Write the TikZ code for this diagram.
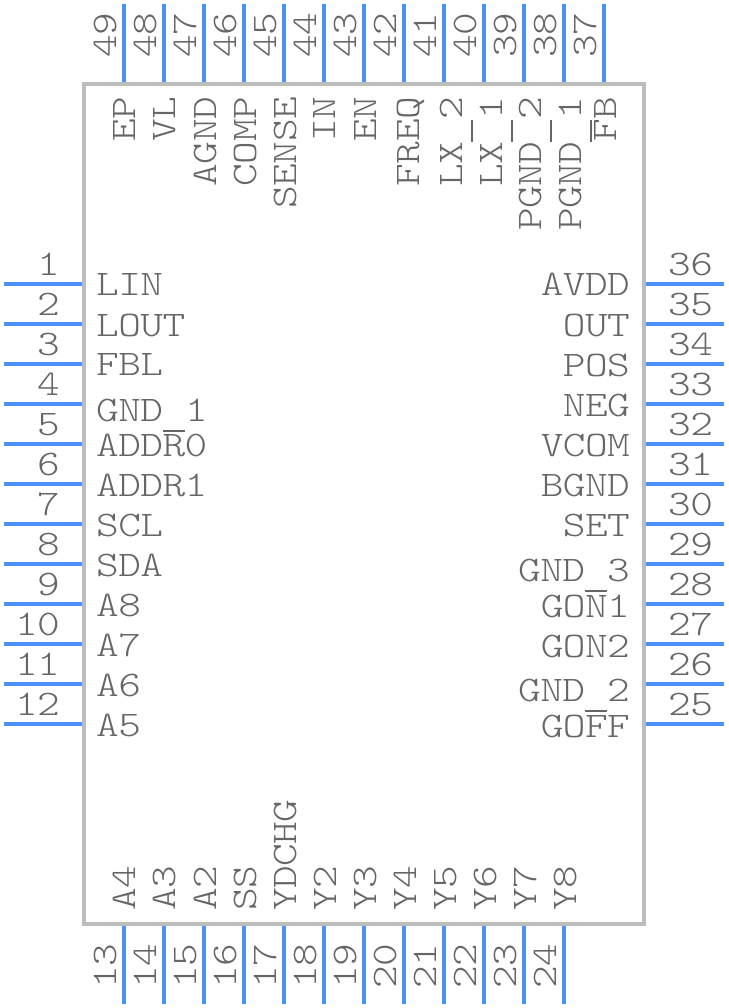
\documentclass[tikz,border=0pt]{standalone}
\usepackage{fontspec}
\setmonofont[FakeStretch=1.2,LetterSpace=-1.6]{Latin Modern Mono Light}
\definecolor{pinblue}{HTML}{4A90F8}
\definecolor{bodygray}{HTML}{BDBDBD}
\definecolor{textgray}{HTML}{666666}
\newcommand{\us}{\makebox[22pt][l]{\rule[-11pt]{21.6pt}{2pt}}}
\tikzset{
	pin/.style = {color = pinblue, line width = 4pt},
	lbl/.style = {inner sep = 0pt, text = textgray, font = \fontsize{36}{36}\ttfamily},
}

\begin{document}
\begin{tikzpicture}[x = 1pt, y = -1pt]
	\useasboundingbox (0,0) rectangle (728,1008);
	\draw [color = bodygray, line width = 4pt] (84,84) rectangle (644,924);
	% left side
	\foreach \n/\t/\b in {1/LIN/295, 2/LOUT/336, 3/FBL/375, 4/GND\us1/421, 5/ADDR0/456, 6/ADDR1/496, 7/SCL/536, 8/SDA/576, 9/A8/616, 10/A7/656, 11/A6/696, 12/A5/736}
	{
		\pgfmathsetmacro{\y}{244 + 40*\n}
		\draw [pin] (4,\y) -- (82,\y);
		\node (num\n) [lbl, anchor = base east] at (60,\y-9) {\n};
		\node (name\n) [lbl, anchor = base west] at (96,\b) {\t};
	}
	% right side
	\foreach \n/\t/\b in {36/AVDD/295, 35/OUT/336, 34/POS/376, 33/NEG/416, 32/VCOM/456, 31/BGND/496, 30/SET/536, 29/GND\us3/581, 28/GON1/617, 27/GON2/657, 26/GND\us2/701, 25/GOFF/737}
	{
		\pgfmathsetmacro{\y}{1724 - 40*\n}
		\draw [pin] (646,\y) -- (724,\y);
		\node (num\n) [lbl, anchor = base west] at (668,\y-9) {\n};
		\node (name\n) [lbl, anchor = base east] at (630,\b) {\t};
	}
	% top side
	\foreach \n/\t/\b in {49/EP/135, 48/VL/175, 47/AGND/216, 46/COMP/256, 45/SENSE/296, 44/IN/335, 43/EN/376, 42/FREQ/419, 41/LX\us2/462, 40/LX\us1/502, 39/PGND\us2/541, 38/PGND\us1/581, 37/FB/616}
	{
		\pgfmathsetmacro{\x}{2084 - 40*\n}
		\draw [pin] (\x,4) -- (\x,82);
		\node (num\n) [lbl, rotate = 90, anchor = base west] at (\x-8,58) {\n};
		\node (name\n) [lbl, rotate = 90, anchor = base east] at (\b,97) {\t};
	}
	% bottom side
	\foreach \n/\t/\b in {13/A4/135, 14/A3/175, 15/A2/216, 16/SS/256, 17/YDCHG/296, 18/Y2/336, 19/Y3/376, 20/Y4/416, 21/Y5/456, 22/Y6/496, 23/Y7/536, 24/Y8/576}
	{
		\pgfmathsetmacro{\x}{40*\n - 396}
		\draw [pin] (\x,926) -- (\x,1004);
		\node (num\n) [lbl, rotate = 90, anchor = base west] at (\x-8,989) {\n};
		\node (name\n) [lbl, rotate = 90, anchor = base west] at (\b,911) {\t};
	}
\end{tikzpicture}
\end{document}
